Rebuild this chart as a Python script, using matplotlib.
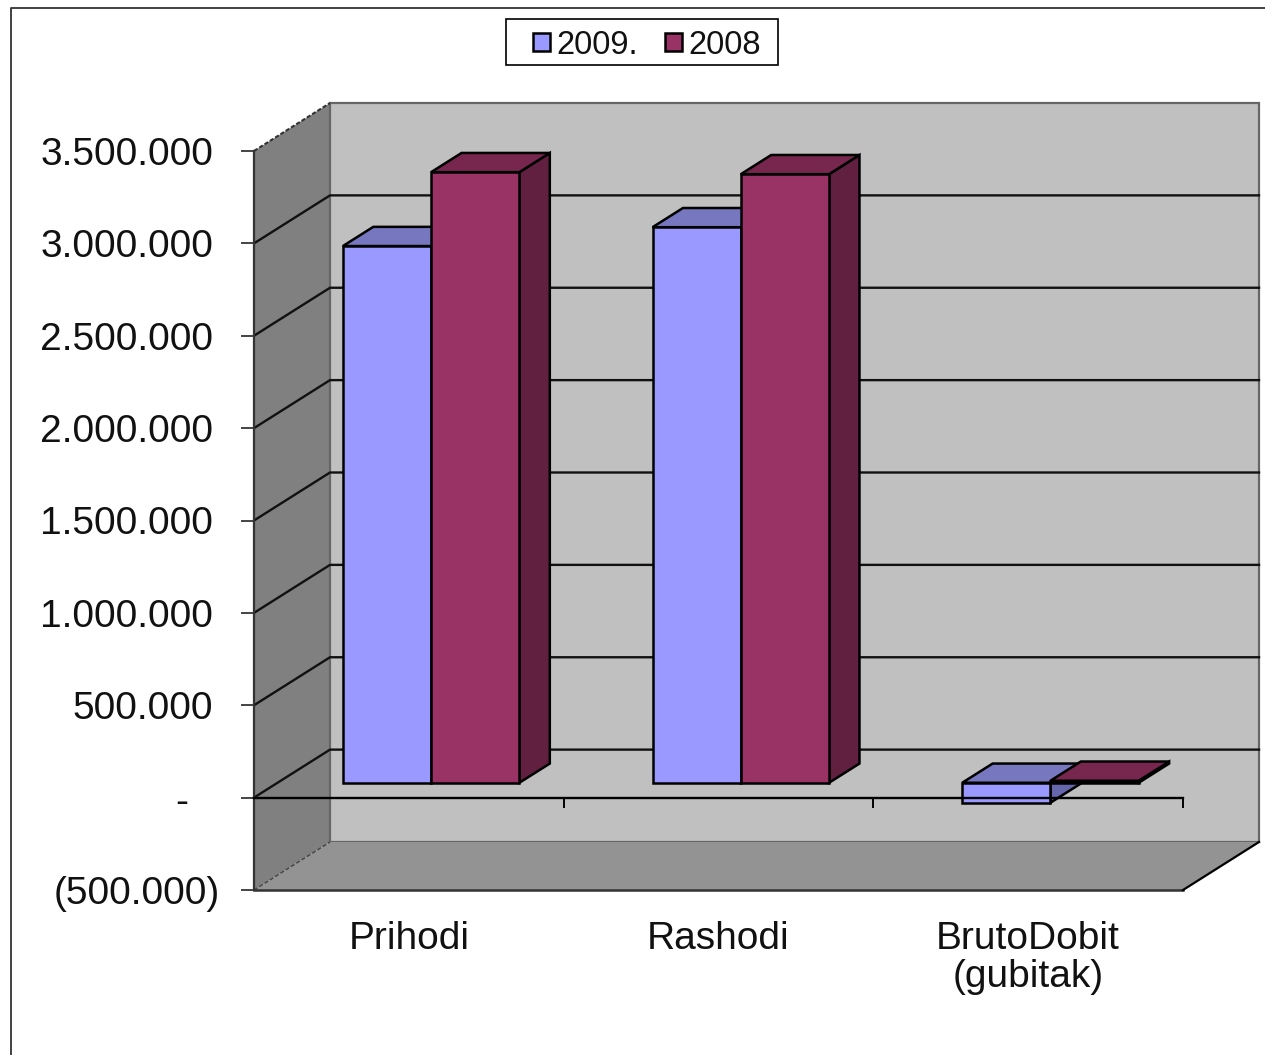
import matplotlib
matplotlib.use("Agg")
import matplotlib.pyplot as plt
from matplotlib.lines import Line2D
from matplotlib.patches import Patch, Polygon, Rectangle
from matplotlib.transforms import ScaledTranslation

plt.rcParams["font.family"] = ["Liberation Sans", "DejaVu Sans"]

categories = ["Prihodi", "Rashodi", "BrutoDobit\n(gubitak)"]
series_names = ["2009.", "2008"]
values_2009 = [2905000, 3007000, -108000]
values_2008 = [3305000, 3294000, 11000]
y_ticks = [-500000, 0, 500000, 1000000, 1500000, 2000000, 2500000, 3000000, 3500000]
y_labels = ["(500.000)", "-", "500.000", "1.000.000", "1.500.000", "2.000.000",
            "2.500.000", "3.000.000", "3.500.000"]

W, H = 1265, 1055
fig = plt.figure(figsize=(W / 100, H / 100), dpi=100)
ax = fig.add_axes([254 / W, 1 - 890 / H, 929 / W, 739 / H])
ax.set_xlim(0, 3)
ax.set_ylim(-500000, 3500000)
ax.patch.set_alpha(0)

# depth of the fake 3d box, in data units
DX = 76 / (929 / 3)
DY = 48 / (739 / 4000000)
BAR_W = 0.285
GAP = 0.211
BAR_D0 = 0.31
BAR_D1 = 0.71
EDGE = 1.8


def at(x, y, d):
    return (x + d * DX, y + d * DY)


def poly(points, color, edge="none", lw=0, z=1):
    ax.add_patch(Polygon(points, closed=True, facecolor=color, edgecolor=edge,
                         linewidth=lw, zorder=z, clip_on=False, joinstyle="miter"))


ymin, ymax = y_ticks[0], y_ticks[-1]
# walls and floor
poly([at(0, ymin, 0), at(0, ymin, 1), at(0, ymax, 1), at(0, ymax, 0)], "#808080", z=1)
poly([at(0, ymin, 1), at(3, ymin, 1), at(3, ymax, 1), at(0, ymax, 1)], "#c0c0c0", "#666666", 1.6, z=1)
poly([at(0, ymin, 0), at(3, ymin, 0), at(3, ymin, 1), at(0, ymin, 1)], "#939393", z=1.1)

ax.plot(*zip(at(0, ymax, 0), at(0, ymax, 1)), color="#333333", lw=1.5, ls=(0, (2, 1)), zorder=1.2, clip_on=False)
ax.plot(*zip(at(0, ymin, 0), at(0, ymin, 1)), color="#444444", lw=1, ls=(0, (3, 1.5)), zorder=1.2, clip_on=False)
ax.plot(*zip(at(0, ymin, 0), at(3, ymin, 0)), color="#333333", lw=1.8, zorder=1.2, clip_on=False)
ax.plot(*zip(at(3, ymin, 0), at(3, ymin, 1)), color="black", lw=1.6, zorder=1.2, clip_on=False)

# gridlines run along the side wall and the back wall
for v in y_ticks[1:-1]:
    ax.plot(*zip(at(0, v, 0), at(0, v, 1), at(3, v, 1)), color="#111111", lw=1.7, zorder=1.5, clip_on=False)

colors = [("#9999ff", "#7777bf", "#6666aa"), ("#993366", "#77264e", "#612040")]
for i in range(len(categories)):
    for j, vals in enumerate([values_2009, values_2008]):
        x0 = i + GAP + j * BAR_W
        x1 = x0 + BAR_W
        lo, hi = min(0, vals[i]), max(0, vals[i])
        front, top, side = colors[j]
        z = 2 + i + j * 0.1
        poly([at(x1, lo, BAR_D0), at(x1, lo, BAR_D1), at(x1, hi, BAR_D1), at(x1, hi, BAR_D0)],
             side, "black", EDGE, z)
        poly([at(x0, hi, BAR_D0), at(x1, hi, BAR_D0), at(x1, hi, BAR_D1), at(x0, hi, BAR_D1)],
             top, "black", EDGE, z + 0.01)
        poly([at(x0, lo, BAR_D0), at(x1, lo, BAR_D0), at(x1, hi, BAR_D0), at(x0, hi, BAR_D0)],
             front, "black", EDGE, z + 0.02)

for s in ["top", "right"]:
    ax.spines[s].set_visible(False)
ax.spines["bottom"].set_position(("data", 0))
ax.spines["bottom"].set_linewidth(1.7)
ax.spines["bottom"].set_zorder(8)
ax.spines["left"].set_linewidth(1.6)
ax.spines["left"].set_color("#333333")
ax.spines["left"].set_zorder(8)

ax.set_yticks(y_ticks)
ax.set_yticklabels(y_labels, fontsize=28, color="#111111")
ax.tick_params(axis="y", length=9.4, width=1.4, color="#444444", pad=20)
# accounting format: the bracket hangs out, the dash sits further in
labs = ax.get_yticklabels()
labs[0].set_transform(labs[0].get_transform() + ScaledTranslation(7 / 100, 0, fig.dpi_scale_trans))
labs[1].set_transform(labs[1].get_transform() + ScaledTranslation(-25 / 100, -1 / 100, fig.dpi_scale_trans))

ax.set_xticks(range(len(categories) + 1))
ax.set_xticklabels([])
ax.set_xticks([i + 0.5 for i in range(len(categories))], minor=True)
ax.set_xticklabels(categories, minor=True, fontsize=28, color="#111111", linespacing=1.05)
ax.tick_params(axis="x", which="major", length=7, width=1.4, color="black", zorder=8)
ax.tick_params(axis="x", which="minor", length=0, pad=89)

# outer chart frame and legend box
fig.add_artist(Line2D([10.5 / W, 10.5 / W, 1], [0, 1 - 8 / H, 1 - 8 / H], color="#333333", lw=1.3))
fig.add_artist(Rectangle((506 / W, 1 - 65 / H), 272 / W, 46 / H, facecolor="white", edgecolor="black", lw=1.2))
handles = [Patch(facecolor=colors[k][0], edgecolor="black", linewidth=1.8, label=series_names[k]) for k in range(2)]
fig.legend(handles=handles, loc="center", bbox_to_anchor=(647 / W, 1 - 45 / H), ncol=2, frameon=False,
           fontsize=23.5, handlelength=0.5, handleheight=0.5, handletextpad=0.2, columnspacing=0.85,
           borderpad=0, labelcolor="#111111")

fig.savefig("out.png", dpi=100)
